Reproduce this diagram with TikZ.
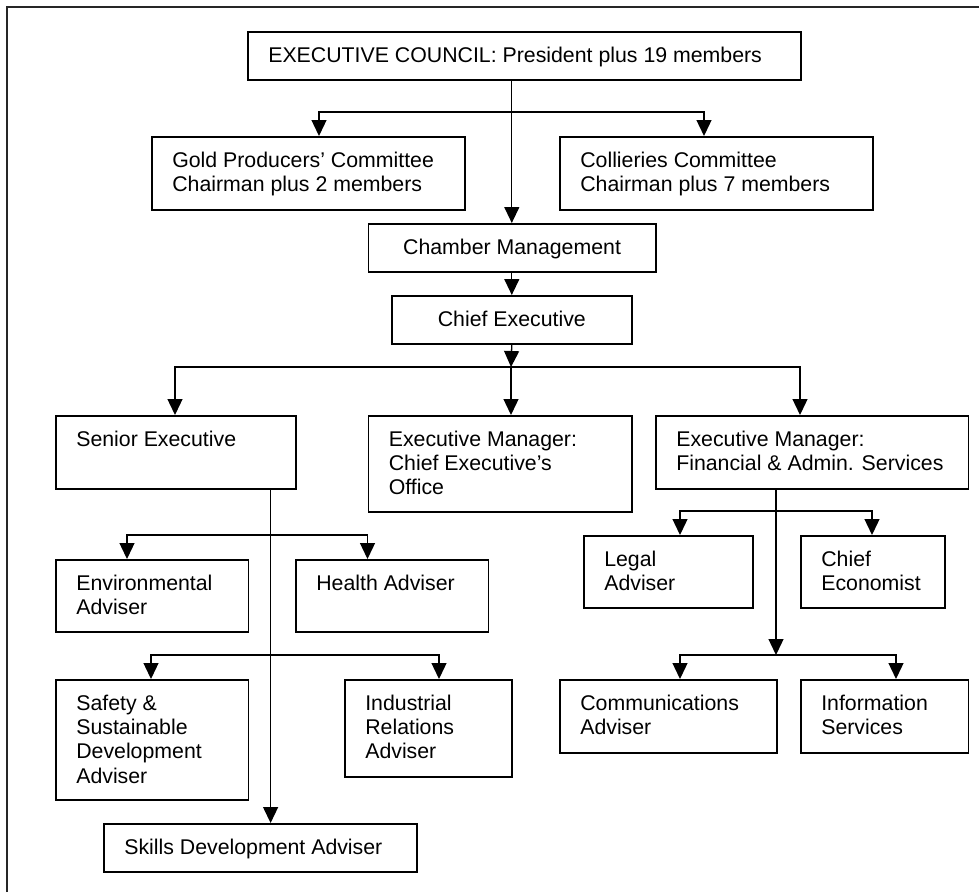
\documentclass[tikz,border=0pt]{standalone}
\usepackage{fontspec}
\setmainfont{Liberation Sans}
\usetikzlibrary{arrows.meta}
\newcommand{\bxl}[3]{\parbox[c][#2][t]{#1}{\raggedright\leftskip=20.5pt\rule{0pt}{30.5pt}#3}}
\newcommand{\bxc}[3]{\parbox[c][#2][t]{#1}{\centering\rule{0pt}{30.5pt}#3}}
\begin{document}
\begin{tikzpicture}[x=1pt,y=-1pt,
  box/.style={draw, line width=1.6pt, inner sep=0pt, anchor=north west,
    font=\fontsize{21.3}{24.3}\selectfont},
  conn/.style={line width=1.3pt},
  arr/.style={conn, -{Triangle[length=16pt,width=15pt]}},
  arrtwo/.style={conn, {Triangle[length=16pt,width=15pt]}-{Triangle[length=16pt,width=15pt]}}
]
\useasboundingbox (0,0) rectangle (979,892);
\draw[line width=2pt, black!85] (7.3,892) -- (7.3,7) -- (979,7);

% boxes
\node[box] (exec) at (247,31) {\bxl{553pt}{48pt}{EXECUTIVE COUNCIL: President plus 19 members}};
\node[box] (gold) at (151,136) {\bxl{313pt}{73pt}{Gold Producers’ Committee\\Chairman plus 2 members}};
\node[box] (coll) at (559,136) {\bxl{313pt}{73pt}{Collieries Committee\\Chairman plus 7 members}};
\node[box] (chamber) at (367.5,223) {\bxc{287.5pt}{48pt}{Chamber Management}};
\node[box] (chief) at (391,295) {\bxc{240pt}{48pt}{Chief Executive}};
\node[box] (senior) at (55,415) {\bxl{240pt}{73pt}{Senior Executive}};
\node[box] (emceo) at (367.5,415) {\bxl{263.5pt}{96pt}{Executive Manager:\\Chief Executive’s\\Office}};
\node[box] (emfin) at (655,415) {\bxl{312.5pt}{73pt}{Executive Manager:\\Financial \& Admin. Services}};
\node[box] (env) at (55,559) {\bxl{192.5pt}{72pt}{Environmental\\Adviser}};
\node[box] (health) at (295,559) {\bxl{192.5pt}{72pt}{Health Adviser}};
\node[box] (legal) at (583,535) {\bxl{169pt}{72pt}{Legal\\Adviser}};
\node[box] (econ) at (800,535) {\bxl{144pt}{72pt}{Chief\\Economist}};
\node[box] (safety) at (55,679) {\bxl{192.5pt}{120pt}{Safety \&\\Sustainable\\Development\\Adviser}};
\node[box] (indus) at (344,679) {\bxl{167pt}{97pt}{Industrial\\Relations\\Adviser}};
\node[box] (comm) at (559,679) {\bxl{217pt}{73pt}{Communications\\Adviser}};
\node[box] (info) at (800,679) {\bxl{167.5pt}{73pt}{Information\\Services}};
\node[box] (skills) at (103,823) {\bxl{313pt}{48pt}{Skills Development Adviser}};

% junction coordinates
\coordinate (g) at (319,112);
\coordinate (c) at (704,112);
\coordinate (sj) at (511,367);
\coordinate (lj) at (175,367);
\coordinate (rj) at (800,367);
\coordinate (sv) at (270.6,488);
\coordinate (e1) at (127,535);
\coordinate (h1) at (367.5,535);
\coordinate (sf) at (151,655);
\coordinate (ir) at (439,655);
\coordinate (fv) at (776,488);
\coordinate (fb) at (776,655);
\coordinate (lg) at (680,511);
\coordinate (ce) at (872,511);
\coordinate (cm) at (680,655);
\coordinate (inf) at (896,655);

% connectors
\draw[arr] (exec.south -| chief.north) -- (chamber.north -| chief.north);
\draw[arrtwo] (g |- gold.north) -- (g) -- (c) -- (c |- coll.north);
\draw[arr] (chamber.south -| chief.north) -- (chief.north);
\draw[arr] (chief.south) -- (sj);
\draw[arr] (sj) -- (sj |- emceo.north);
\draw[arrtwo] (lj |- senior.north) -- (lj) -- (rj) -- (rj |- emfin.north);
\draw[arr] (sv) -- (sv |- skills.north);
\draw[arrtwo] (e1 |- env.north) -- (e1) -- (h1) -- (h1 |- health.north);
\draw[arrtwo] (sf |- safety.north) -- (sf) -- (ir) -- (ir |- indus.north);
\draw[arr] (fv) -- (fb);
\draw[arrtwo] (lg |- legal.north) -- (lg) -- (ce) -- (ce |- econ.north);
\draw[arrtwo] (cm |- comm.north) -- (cm) -- (inf) -- (inf |- info.north);
\end{tikzpicture}
\end{document}
